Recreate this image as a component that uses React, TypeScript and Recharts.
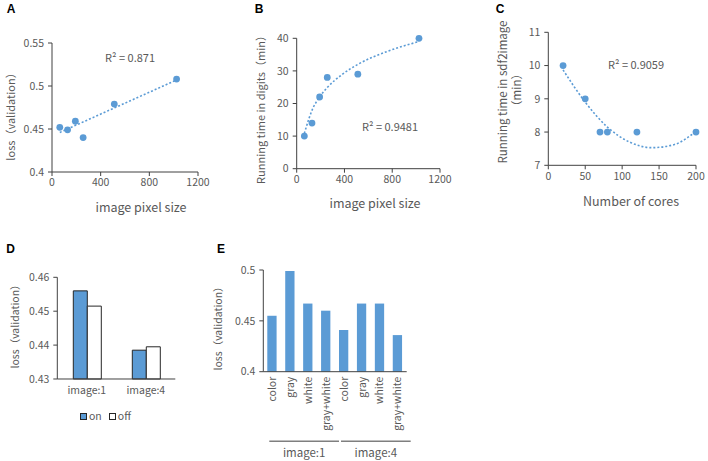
import React from 'react';
import { ComposedChart, BarChart, Bar, Line, Scatter, XAxis, YAxis } from 'recharts';

const FONT = '"Noto Sans CJK JP", "Noto Sans", sans-serif';
const INK = '#595959';
const AXIS = '#404040';
const BLUE = '#5B9BD5';

// A: validation loss vs image pixel size
const pixelSizes = [64, 128, 192, 256, 512, 1024];
const lossBySize = [0.452, 0.449, 0.459, 0.44, 0.479, 0.508];
const lossTrendX = [64, 1024];
const lossTrendY = [0.446, 0.507];

// B: running time in digits vs image pixel size
const timeDigits = [10, 14, 22, 28, 29, 40];
const digitsTrendX = [64, 128, 192, 256, 384, 512, 768, 1024];
const digitsTrendY = [10.8, 17.9, 22, 24.9, 29, 32, 36.1, 39];

// C: running time in sdf2image vs number of cores
const cores = [20, 50, 70, 80, 120, 200];
const timeSdf = [10, 9, 8, 8, 8, 8];
const sdfTrendX = [20, 50, 80, 110, 140, 170, 200];
const sdfTrendY = [9.87, 8.9, 8.15, 7.7, 7.53, 7.62, 8.02];

// D: on / off
const dCats = ['image:1', 'image:4'];
const dSeries = ['on', 'off'];
const lossOn = [0.456, 0.4385];
const lossOff = [0.4515, 0.4395];

// E: colour modes per image
const eGroups = ['image:1', 'image:4'];
const eModes = ['color', 'gray', 'white', 'gray+white'];
const eLoss = [0.455, 0.499, 0.467, 0.46, 0.441, 0.467, 0.467, 0.436];

const pts = (xs: number[], ys: number[]) => xs.map((x, i) => ({ x, y: ys[i] }));

const dData = dCats.map((cat, i) => ({ cat, on: lossOn[i], off: lossOff[i] }));
const eData = eGroups.flatMap((group, gi) =>
    eModes.map((mode, mi) => ({ id: `${group} ${mode}`, group, mode, loss: eLoss[gi * eModes.length + mi] }))
);

const tickStyle = { fill: INK, fontSize: 10.5, fontFamily: FONT };

function Caption({ x, y, text, size = 12, rotate = false, bold = false, family = FONT, color = INK }: any) {
    return (
        <div
            style={{
                position: 'absolute',
                left: x,
                top: y,
                transform: `translate(-50%, -50%)${rotate ? ' rotate(-90deg)' : ''}`,
                fontSize: size,
                fontFamily: family,
                fontWeight: bold ? 700 : 400,
                color,
                whiteSpace: 'nowrap',
                lineHeight: 1,
            }}
        >
            {text}
        </div>
    );
}

const dot = (p: any) => <circle cx={p.cx} cy={p.cy} r={3.4} fill={BLUE} />;

function ScatterPanel({ left, top, w, h, mTop, mRight, yW, xH, xDomain, xTicks, yDomain, yTicks, points, trend, curve }: any) {
    return (
        <div style={{ position: 'absolute', left, top }}>
            <ComposedChart width={w} height={h} margin={{ top: mTop, right: mRight, bottom: 0, left: 0 }} style={{ fontFamily: FONT, overflow: 'visible' }}>
                <XAxis
                    type="number"
                    dataKey="x"
                    domain={xDomain}
                    ticks={xTicks}
                    height={xH}
                    stroke={AXIS}
                    tickSize={4}
                    tickMargin={3}
                    tick={tickStyle}
                />
                <YAxis
                    type="number"
                    dataKey="y"
                    domain={yDomain}
                    ticks={yTicks}
                    width={yW}
                    stroke={AXIS}
                    tickSize={4}
                    tickMargin={4}
                    tick={tickStyle}
                />
                <Line
                    data={trend}
                    dataKey="y"
                    type={curve}
                    stroke={BLUE}
                    strokeWidth={1.6}
                    strokeDasharray="2 2"
                    dot={false}
                    activeDot={false}
                    isAnimationActive={false}
                />
                <Scatter data={points} fill={BLUE} shape={dot} isAnimationActive={false} />
            </ComposedChart>
        </div>
    );
}

// E layout: plot width / categories -> band
const E_PLOT_W = 143.4;
const E_BAND = E_PLOT_W / eData.length;

function ETick({ x, y, index }: any) {
    const row = eData[index];
    if (!row) return null;
    const first = row.mode === eModes[0];
    const start = x - E_BAND / 2 + 6;
    const end = start + eModes.length * E_BAND - 2;
    return (
        <g>
            <text
                x={x}
                y={y}
                transform={`rotate(-90, ${x}, ${y})`}
                textAnchor="end"
                dy="0.35em"
                fill={INK}
                fontSize={10.5}
                fontFamily={FONT}
            >
                {row.mode}
            </text>
            {first && (
                <g>
                    <line x1={start} x2={end} y1={y + 64.5} y2={y + 64.5} stroke="#7f7f7f" strokeWidth={1.6} />
                    <text x={(start + end) / 2} y={y + 75.5} textAnchor="middle" dominantBaseline="central" fill={INK} fontSize={11.5} fontFamily={FONT}>
                        {row.group}
                    </text>
                </g>
            )}
        </g>
    );
}

const dFill: Record<string, string> = { on: BLUE, off: '#ffffff' };

export default function App() {
    return (
        <div style={{ position: 'absolute', left: 0, top: 0, width: 708, height: 461, background: '#fff', overflow: 'hidden' }}>
            {/* A */}
            <ScatterPanel
                left={0} top={20} w={210} h={200} mTop={23} mRight={12} yW={52} xH={48}
                xDomain={[0, 1200]} xTicks={[0, 400, 800, 1200]}
                yDomain={[0.4, 0.55]} yTicks={[0.4, 0.45, 0.5, 0.55]}
                points={pts(pixelSizes, lossBySize)} trend={pts(lossTrendX, lossTrendY)} curve="linear"
            />
            {/* B */}
            <ScatterPanel
                left={240} top={15} w={212} h={202} mTop={23.3} mRight={12} yW={56.7} xH={48.3}
                xDomain={[0, 1200]} xTicks={[0, 400, 800, 1200]}
                yDomain={[0, 40]} yTicks={[0, 10, 20, 30, 40]}
                points={pts(pixelSizes, timeDigits)} trend={pts(digitsTrendX, digitsTrendY)} curve="monotone"
            />
            {/* C */}
            <ScatterPanel
                left={490} top={10} w={218} h={203.3} mTop={22.3} mRight={12} yW={58.3} xH={48}
                xDomain={[0, 200]} xTicks={[0, 50, 100, 150, 200]}
                yDomain={[7, 11]} yTicks={[7, 8, 9, 10, 11]}
                points={pts(cores, timeSdf)} trend={pts(sdfTrendX, sdfTrendY)} curve="monotone"
            />

            {/* D */}
            <div style={{ position: 'absolute', left: 0, top: 255 }}>
                <BarChart width={185.3} height={154} data={dData} margin={{ top: 22.3, right: 10, bottom: 0, left: 0 }} barGap={0} style={{ fontFamily: FONT }}>
                    <XAxis dataKey="cat" height={30} stroke={AXIS} tickLine={false} tickSize={0} tickMargin={8} tick={tickStyle} />
                    <YAxis
                        type="number"
                        domain={[0.43, 0.46]}
                        ticks={[0.43, 0.44, 0.45, 0.46]}
                        width={57.3}
                        stroke={AXIS}
                        tickSize={4}
                        tickMargin={4}
                        tick={tickStyle}
                    />
                    {dSeries.map((s) => (
                        <Bar key={s} dataKey={s} fill={dFill[s]} stroke="#262626" strokeWidth={1} barSize={14} isAnimationActive={false} />
                    ))}
                </BarChart>
            </div>
            <div style={{ position: 'absolute', left: 80, top: 411, display: 'flex', alignItems: 'center', fontFamily: FONT, fontSize: 10.5, color: INK, lineHeight: 1 }}>
                {dSeries.map((s) => (
                    <div key={s} style={{ display: 'flex', alignItems: 'center', marginRight: 7 }}>
                        <span style={{ width: 5, height: 5, background: dFill[s], border: '1px solid #262626', marginRight: 2 }} />
                        <span>{s}</span>
                    </div>
                ))}
            </div>

            {/* E */}
            <div style={{ position: 'absolute', left: 215, top: 248 }}>
                <BarChart width={201.7} height={213} data={eData} margin={{ top: 22, right: 10, bottom: 0, left: 0 }} style={{ fontFamily: FONT }}>
                    <XAxis dataKey="id" height={89.3} stroke={AXIS} interval={0} tickLine={false} tickSize={0} tickMargin={5} tick={<ETick />} />
                    <YAxis
                        type="number"
                        domain={[0.4, 0.5]}
                        ticks={[0.4, 0.45, 0.5]}
                        width={48.3}
                        stroke={AXIS}
                        tickSize={4}
                        tickMargin={4}
                        tick={tickStyle}
                    />
                    <Bar dataKey="loss" fill={BLUE} barSize={9.3} isAnimationActive={false} />
                </BarChart>
            </div>

            {/* panel letters */}
            <Caption x={11} y={9} text="A" size={12} bold family="'Liberation Sans', Arial, sans-serif" color="#000" />
            <Caption x={259} y={9} text="B" size={12} bold family="'Liberation Sans', Arial, sans-serif" color="#000" />
            <Caption x={500} y={9} text="C" size={12} bold family="'Liberation Sans', Arial, sans-serif" color="#000" />
            <Caption x={10.5} y={249} text="D" size={12} bold family="'Liberation Sans', Arial, sans-serif" color="#000" />
            <Caption x={221} y={249} text="E" size={12} bold family="'Liberation Sans', Arial, sans-serif" color="#000" />

            {/* axis titles */}
            <Caption x={10} y={114} text="loss（validation）" size={11} rotate />
            <Caption x={141} y={207} text="image pixel size" size={12.5} />
            <Caption x={260} y={107} text="Running time in digits（min）" size={11} rotate />
            <Caption x={375} y={203} text="image pixel size" size={12.5} />
            <Caption x={503} y={92} text="Running time in sdf2image" size={11.5} rotate />
            <Caption x={517} y={90} text="（min）" size={11.5} rotate />
            <Caption x={631} y={201} text="Number of cores" size={12.5} />
            <Caption x={15} y={324} text="loss（validation）" size={10.5} rotate />
            <Caption x={218} y={326} text="loss（validation）" size={10.5} rotate />

            {/* R² annotations */}
            <Caption x={130} y={57} text="R² = 0.871" size={11} />
            <Caption x={390} y={126} text="R² = 0.9481" size={11} />
            <Caption x={636} y={64} text="R² = 0.9059" size={11} />
        </div>
    );
}
